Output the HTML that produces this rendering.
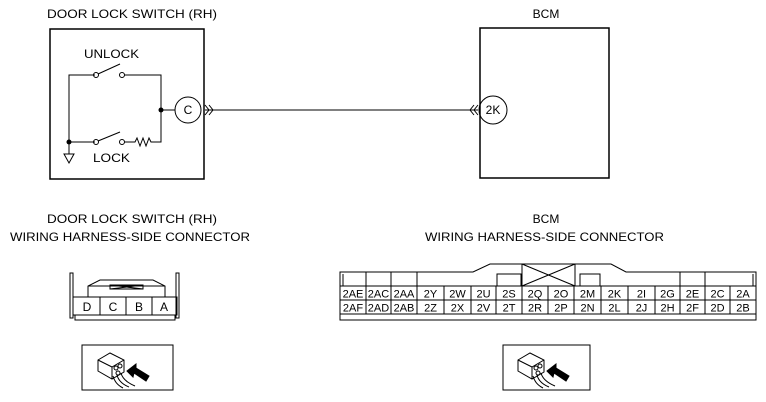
<!DOCTYPE html>
<html><head><style>html,body{margin:0;padding:0;background:#fff}svg{display:block}</style></head><body>
<svg width="766" height="402" viewBox="0 0 766 402" xmlns="http://www.w3.org/2000/svg" font-family="Liberation Sans, sans-serif" font-size="12" fill="none" stroke="#000">
<g fill="#000" stroke="none">
<text x="47" y="18" textLength="170" lengthAdjust="spacingAndGlyphs">DOOR LOCK SWITCH (RH)</text>
<text x="546" y="18" text-anchor="middle">BCM</text>
<text x="47" y="223" textLength="170" lengthAdjust="spacingAndGlyphs">DOOR LOCK SWITCH (RH)</text>
<text x="10" y="241" textLength="240" lengthAdjust="spacingAndGlyphs">WIRING HARNESS-SIDE CONNECTOR</text>
<text x="546" y="223" text-anchor="middle">BCM</text>
<text x="425" y="241" textLength="239" lengthAdjust="spacingAndGlyphs">WIRING HARNESS-SIDE CONNECTOR</text>
<text x="84" y="58" textLength="55" lengthAdjust="spacingAndGlyphs">UNLOCK</text>
<text x="93" y="162" textLength="37" lengthAdjust="spacingAndGlyphs">LOCK</text>
<text x="188" y="114" text-anchor="middle">C</text>
<text x="493" y="114" text-anchor="middle">2K</text>
</g>
<rect x="50" y="29" width="154" height="150" stroke-width="1.5"/>
<rect x="480" y="28" width="129" height="150" stroke-width="1.5"/>
<g stroke-width="1">
<polyline points="95,75 69,75 69,142 95,142"/>
<circle cx="96" cy="75" r="2.5"/><circle cx="122" cy="75" r="2.5"/>
<line x1="98" y1="74" x2="120" y2="64"/>
<polyline points="124,75 161,75 161,142 153,142"/>
<circle cx="96" cy="142" r="2.5"/><circle cx="122" cy="142" r="2.5"/>
<line x1="98" y1="141" x2="120" y2="132"/>
<polyline points="124,142 135,142 137,138 140,146 143,138 146,146 149,138 151,142 153,142"/>
<line x1="161" y1="110" x2="175" y2="110"/>
<line x1="69" y1="142" x2="69" y2="154"/>
<polygon points="64,154 74,154 69,163"/>
<circle cx="188" cy="110" r="13"/>
<circle cx="493" cy="110" r="14"/>
<line x1="205" y1="110" x2="478" y2="110"/>
<polyline points="205,105 209,110 205,115"/><polyline points="209,105 213,110 209,115"/>
<polyline points="474,105 470,110 474,115"/><polyline points="478,105 474,110 478,115"/>
</g>
<circle cx="69" cy="142" r="2.5" fill="#000" stroke="none"/>
<circle cx="161" cy="110" r="2.5" fill="#000" stroke="none"/>
<g stroke-width="1">
<rect x="70" y="273" width="3" height="45"/>
<rect x="176" y="273" width="3" height="45"/>
<polyline points="88,297 88,286 100,280 153,280 165,286 165,297"/>
<line x1="88" y1="286" x2="165" y2="286"/>
<rect x="110" y="285" width="33" height="4"/>
<line x1="110" y1="285" x2="143" y2="289"/><line x1="110" y1="289" x2="143" y2="285"/>
<rect x="73" y="297" width="104" height="18"/>
<rect x="75" y="315" width="100" height="5"/>
<line x1="100" y1="297" x2="100" y2="315"/><line x1="126" y1="297" x2="126" y2="315"/><line x1="152" y1="297" x2="152" y2="315"/>
</g>
<g fill="#000" stroke="none" text-anchor="middle"><text x="87" y="311">D</text><text x="113" y="311">C</text><text x="139" y="311">B</text><text x="164" y="311">A</text></g>
<g stroke-width="1">
<rect x="82" y="345" width="91" height="45"/>
<rect x="503" y="345" width="87" height="45"/>
<g id="ic">
<polygon points="98,360 110,353 124,360 124,372 112,379 98,371"/>
<polyline points="98,360 112,367 124,360"/><line x1="112" y1="367" x2="112" y2="379"/>
<circle cx="116" cy="368" r="2"/><circle cx="120" cy="366" r="2"/><circle cx="118" cy="373" r="2"/>
<path d="M113,376 q2,8 10,12 M117,375 q2,8 12,12 M121,373 q2,8 14,13"/>
<polygon points="127,371 136,364 136,368 149,376 146,381 134,373 133,377" fill="#000"/>
</g>
<use href="#ic" x="420"/>
</g>
<g stroke-width="1">
<polyline points="340,286 340,272 473,272 490,264 611,264 626,272 756,272 756,286"/>
<rect x="340" y="286" width="416" height="28"/>
<rect x="340" y="314" width="416" height="6"/>
<line x1="340" y1="300" x2="756" y2="300"/>
<line x1="343" y1="274" x2="343" y2="286"/><line x1="753" y1="274" x2="753" y2="286"/>
<line x1="366" y1="272" x2="366" y2="286"/><line x1="391" y1="272" x2="391" y2="286"/><line x1="417" y1="272" x2="417" y2="286"/>
<line x1="680" y1="272" x2="680" y2="286"/><line x1="705" y1="272" x2="705" y2="286"/>
<rect x="497" y="274" width="24" height="12"/>
<rect x="580" y="274" width="20" height="12"/>
<rect x="522" y="264" width="53" height="22"/>
<line x1="522" y1="264" x2="575" y2="286"/><line x1="522" y1="286" x2="575" y2="264"/>
<path d="M366,286V314M391,286V314M417,286V314M444,286V314M471,286V314M496,286V314M522,286V314M548,286V314M574,286V314M601,286V314M628,286V314M655,286V314M680,286V314M705,286V314M730,286V314"/>
</g>
<g fill="#000" stroke="none" text-anchor="middle" font-size="11">
<text x="353" y="297.5">2AE</text><text x="378.5" y="297.5">2AC</text><text x="404" y="297.5">2AA</text><text x="430.5" y="297.5">2Y</text><text x="457.5" y="297.5">2W</text><text x="483.5" y="297.5">2U</text><text x="509" y="297.5">2S</text><text x="535" y="297.5">2Q</text><text x="561" y="297.5">2O</text><text x="587.5" y="297.5">2M</text><text x="614.5" y="297.5">2K</text><text x="641.5" y="297.5">2I</text><text x="667.5" y="297.5">2G</text><text x="692.5" y="297.5">2E</text><text x="717.5" y="297.5">2C</text><text x="743" y="297.5">2A</text>
<text x="353" y="311.5">2AF</text><text x="378.5" y="311.5">2AD</text><text x="404" y="311.5">2AB</text><text x="430.5" y="311.5">2Z</text><text x="457.5" y="311.5">2X</text><text x="483.5" y="311.5">2V</text><text x="509" y="311.5">2T</text><text x="535" y="311.5">2R</text><text x="561" y="311.5">2P</text><text x="587.5" y="311.5">2N</text><text x="614.5" y="311.5">2L</text><text x="641.5" y="311.5">2J</text><text x="667.5" y="311.5">2H</text><text x="692.5" y="311.5">2F</text><text x="717.5" y="311.5">2D</text><text x="743" y="311.5">2B</text>
</g>
</svg>
</body></html>
